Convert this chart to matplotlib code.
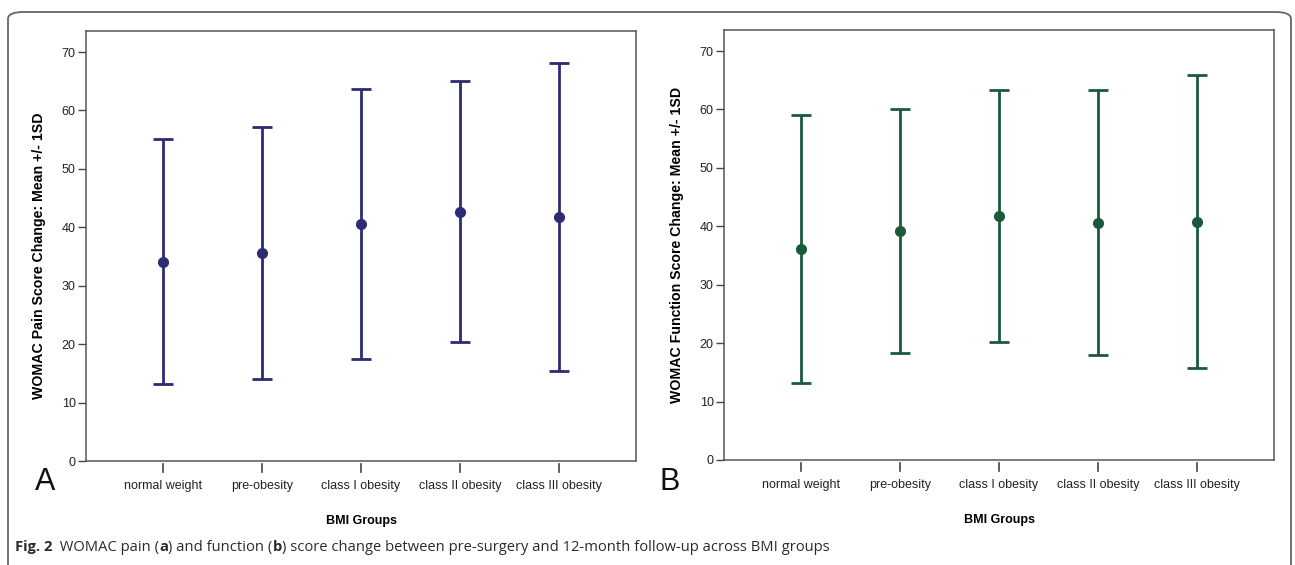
import numpy as np
import matplotlib
matplotlib.use("Agg")
import matplotlib.pyplot as plt
from matplotlib.patches import FancyBboxPatch
import matplotlib.transforms as mtransforms

# === data ===
groups = ["normal weight", "pre-obesity", "class I obesity", "class II obesity", "class III obesity"]

pain_mean = [34.1, 35.6, 40.6, 42.7, 41.8]
pain_sd = [21.0, 21.6, 23.1, 22.4, 26.4]

func_mean = [36.1, 39.2, 41.8, 40.6, 40.8]
func_sd = [23.0, 20.9, 21.6, 22.7, 25.1]

pain_color = "#2c2b74"
func_color = "#1a5a3b"

plt.rcParams['font.family'] = ['Liberation Sans', 'DejaVu Sans']

fig = plt.figure(figsize=(12.95, 5.65), dpi=100)
W, H = 1295, 565

# rounded frame around the figure
frame = FancyBboxPatch((8 / W, -20 / H), 1283 / W, 573 / H,
                       boxstyle="round,pad=0,rounding_size=0.012",
                       transform=fig.transFigure, fill=False,
                       edgecolor="#666666", linewidth=1.3, clip_on=False)
fig.patches.append(frame)


def panel(rect, means, sds, color, ylabel, ylabel_y, letter, letter_x):
    ax = fig.add_axes(rect)
    x = np.arange(len(groups))
    ax.errorbar(x, means, yerr=sds, fmt="o", color=color, ecolor=color,
                elinewidth=2.0, capsize=7, capthick=2.0, markersize=7)
    ax.set_xlim(-0.78, len(groups) - 1 + 0.78)
    ax.set_ylim(0, 73.6)
    ax.set_yticks(range(0, 71, 10))
    ax.tick_params(axis="y", length=6, width=1.0, color="#444444",
                   labelsize=9, pad=1.5, labelcolor="#222222")
    ax.set_xticks(x)
    ax.set_xticklabels(groups, fontsize=9, color="#222222")
    ax.tick_params(axis="x", length=0, pad=14)
    # detached x tick marks below the axis
    trans = mtransforms.blended_transform_factory(ax.transData, ax.transAxes)
    for xi in x:
        ax.plot([xi, xi], [-0.008, -0.026], color="#444444", lw=1.2,
                transform=trans, clip_on=False)
    for s in ax.spines.values():
        s.set_color("#555555")
        s.set_linewidth(1.1)
    ax.set_ylabel(ylabel, fontsize=10.2, fontweight="bold")
    ax.yaxis.set_label_coords(-40 / 550, ylabel_y)
    ax.set_xlabel("BMI Groups", fontsize=9, fontweight="bold", labelpad=16)
    fig.text(letter_x / W, 1 - 490 / H, letter, fontsize=22, color="#111111")
    return ax


panel([86 / W, 1 - 461 / H, 550 / W, 430 / H], pain_mean, pain_sd, pain_color,
      "WOMAC Pain Score Change: Mean +/- 1SD", 0.478, "A", 35)
panel([724 / W, 1 - 460 / H, 550 / W, 430 / H], func_mean, func_sd, func_color,
      "WOMAC Function Score Change: Mean +/- 1SD", 0.5, "B", 659)

# caption, with bold pieces placed one after another
cap_font = ['Open Sans', 'DejaVu Sans']
parts = [("Fig. 2", "bold"), ("  WOMAC pain (", "normal"), ("a", "bold"),
         (") and function (", "normal"), ("b", "bold"),
         (") score change between pre-surgery and 12-month follow-up across BMI groups", "normal")]
fig.canvas.draw()
renderer = fig.canvas.get_renderer()
xpos = 15 / W
for txt, wt in parts:
    t = fig.text(xpos, 1 - 551 / H, txt, fontsize=10.6, fontweight=wt,
                 family=cap_font, color="#2a2a2a", va="baseline")
    bb = t.get_window_extent(renderer=renderer)
    xpos += bb.width / W

fig.savefig("out.png", dpi=100, facecolor="white")
